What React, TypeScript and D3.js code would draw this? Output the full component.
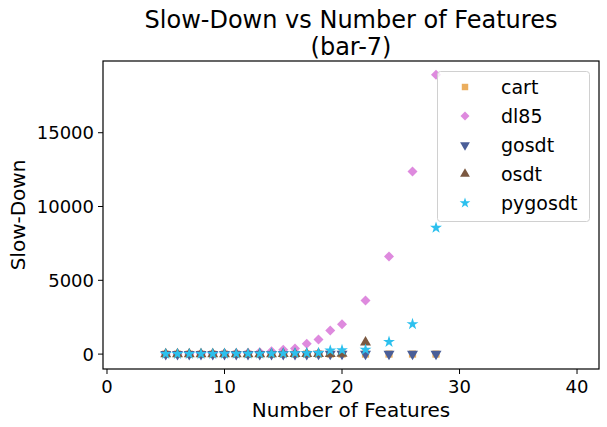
import React from "react";
import * as d3 from "d3";

const features = [5, 6, 7, 8, 9, 10, 11, 12, 13, 14, 15, 16, 17, 18, 19, 20, 22, 24, 26, 28];
const cartValues = [1, 1, 1, 1, 1, 1, 1, 1, 1, 1, 1, 1, 1, 1, 1, 1, 1, 1, 1, 1];
const dl85Values = [5, 8, 12, 18, 25, 35, 50, 70, 130, 200, 290, 380, 700, 990, 1600, 2030, 3630, 6620, 12370, 18920];
const gosdtValues = [2, 2, 2, 2, 2, 2, 2, 2, 2, 3, 3, 3, 3, 4, 4, 5, 6, 8, 10, 12];
const osdtFeatures = [5, 6, 7, 8, 9, 10, 11, 12, 13, 14, 15, 16, 17, 18, 19, 20, 22];
const osdtValues = [1, 1, 1, 2, 2, 3, 4, 5, 6, 8, 10, 12, 15, 20, 25, 30, 790];
const pygosdtValues = [10, 12, 14, 16, 18, 20, 25, 30, 35, 40, 50, 60, 70, 80, 250, 270, 300, 830, 2030, 8560];
const xTicks = [0, 10, 20, 30, 40];
const yTicks = [0, 5000, 10000, 15000];
const seriesNames = ["cart", "dl85", "gosdt", "osdt", "pygosdt"];
const seriesColors = ["#ebae5e", "#de8ade", "#4a5e98", "#7b5840", "#2cc0ee"];

const W = 607, H = 427;
const L = 103, R = 599, T = 61, B = 369;

export default function App() {
  const x = d3.scaleLinear().domain([-0.34, 41.87]).range([L, R]);
  const y = d3.scaleLinear().domain([-1010, 19860]).range([B, T]);
  const font = "DejaVu Sans, sans-serif";

  const series = [
    { name: "cart", xs: features, ys: cartValues, shape: d3.symbolSquare, size: 52, rot: 0 },
    { name: "dl85", xs: features, ys: dl85Values, shape: d3.symbolSquare, size: 50, rot: 45 },
    { name: "gosdt", xs: features, ys: gosdtValues, shape: d3.symbolTriangle, size: 52, rot: 180 },
    { name: "osdt", xs: osdtFeatures, ys: osdtValues, shape: d3.symbolTriangle, size: 52, rot: 0 },
    { name: "pygosdt", xs: features, ys: pygosdtValues, shape: d3.symbolStar, size: 44, rot: 0 },
  ];

  const legendY0 = 87, legendStep = 29;

  return (
    <svg width={W} height={H} style={{ position: "absolute", left: 0, top: 0 }} fontFamily={font}>
      <rect x={0} y={0} width={W} height={H} fill="#fff" />
      <text x={351} y={28} textAnchor="middle" fontSize={24} fill="#000">Slow-Down vs Number of Features</text>
      <text x={351} y={55} textAnchor="middle" fontSize={24} fill="#000">(bar-7)</text>
      {series.map((s, si) => (
        <g key={s.name}>
          {s.xs.map((xv, i) => (
            <path
              key={i}
              d={d3.symbol().type(s.shape).size(s.size)() as string}
              transform={`translate(${x(xv)},${y(s.ys[i])}) rotate(${s.rot})`}
              fill={seriesColors[si]}
            />
          ))}
        </g>
      ))}
      <rect x={L} y={T} width={R - L} height={B - T} fill="none" stroke="#000" strokeWidth={1.2} />
      {xTicks.map((t) => (
        <g key={t}>
          <line x1={x(t)} x2={x(t)} y1={B} y2={B + 5} stroke="#000" />
          <text x={x(t)} y={B + 24} textAnchor="middle" fontSize={18} fill="#000">{t}</text>
        </g>
      ))}
      {yTicks.map((t) => (
        <g key={t}>
          <line x1={L - 5} x2={L} y1={y(t)} y2={y(t)} stroke="#000" />
          <text x={L - 9} y={y(t) + 6.5} textAnchor="end" fontSize={18} fill="#000">{t}</text>
        </g>
      ))}
      <text x={351} y={417} textAnchor="middle" fontSize={20} fill="#000">Number of Features</text>
      <text transform={`translate(25,${(T + B) / 2}) rotate(-90)`} textAnchor="middle" fontSize={20} fill="#000">Slow-Down</text>
      <rect x={437.5} y={71.5} width={152} height={150} rx={3} fill="#fff" fillOpacity={0.8} stroke="#d0d0d0" />
      {series.map((s, si) => (
        <g key={s.name}>
          <path
            d={d3.symbol().type(s.shape).size(s.size * 0.8)() as string}
            transform={`translate(465,${legendY0 + si * legendStep}) rotate(${s.rot})`}
            fill={seriesColors[si]}
          />
          <text x={501} y={legendY0 + si * legendStep + 7} fontSize={19} fill="#000">{seriesNames[si]}</text>
        </g>
      ))}
    </svg>
  );
}
